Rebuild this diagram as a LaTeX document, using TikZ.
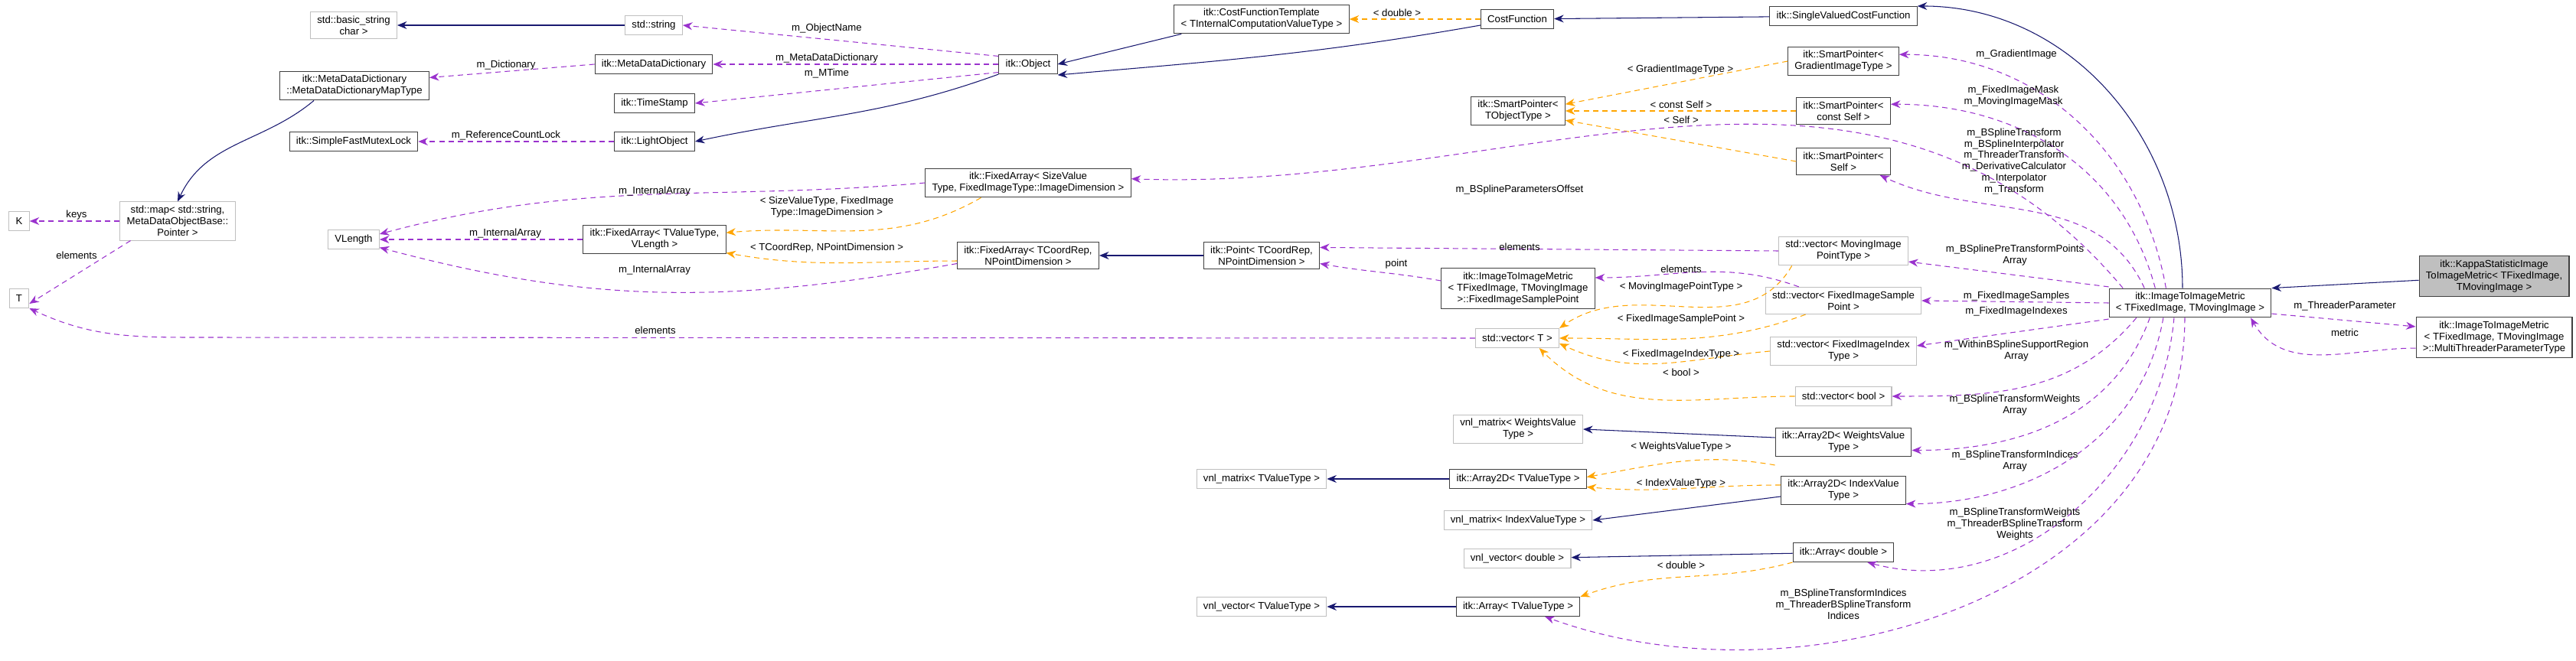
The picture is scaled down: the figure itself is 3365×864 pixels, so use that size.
\documentclass[tikz,border=0pt]{standalone}
\usepackage{fontspec}
\setmainfont{Liberation Sans}
\usetikzlibrary{arrows.meta}
\definecolor{inhcol}{HTML}{191970}
\definecolor{usecol}{HTML}{9A32CD}
\definecolor{tplcol}{HTML}{FFA500}
\begin{document}
\begin{tikzpicture}[x=0.02cm,y=0.02cm,
    font=\fontsize{7.5}{8.5}\selectfont,
    cls/.style={draw=black!75,line width=0.6pt,rectangle,align=center,minimum height=0.5cm,inner xsep=5pt,inner ysep=3pt,fill=white},
    ext/.style={cls,draw=black!25},
    self/.style={cls,fill=black!25},
    inh/.style={draw=inhcol,line width=0.6pt,-{Stealth[length=0.25cm,width=0.2cm]}},
    use/.style={draw=usecol,line width=0.6pt,dash pattern=on 4pt off 3pt,-{Stealth[length=0.25cm,width=0.2cm]}},
    tpl/.style={draw=tplcol,line width=0.6pt,dash pattern=on 4pt off 3pt,-{Stealth[length=0.25cm,width=0.2cm]}},
    lbl/.style={align=center,inner sep=0pt}]
\useasboundingbox (0,0) rectangle (3365,-864);
% classes
\node[ext] (bstr) at (462,-33) {std::basic\_string\\char >};
\node[ext] (str) at (854,-33) {std::string};
\node[cls] (maptype) at (463,-112) {itk::MetaDataDictionary\\::MetaDataDictionaryMapType};
\node[cls] (mdd) at (854,-84) {itk::MetaDataDictionary};
\node[cls] (tstamp) at (855,-135) {itk::TimeStamp};
\node[cls] (mutex) at (462,-185) {itk::SimpleFastMutexLock};
\node[cls] (light) at (855,-185) {itk::LightObject};
\node[ext] (stdmap) at (232,-289) {std::map< std::string,\\MetaDataObjectBase::\\Pointer >};
\node[ext] (K) at (25,-289) {K};
\node[ext] (T) at (25,-390) {T};
\node[ext] (vlen) at (462,-313) {VLength};
\node[cls] (fatv) at (855,-313) {itk::FixedArray< TValueType,\\VLength >};
\node[cls] (obj) at (1343,-84) {itk::Object};
\node[cls] (cft) at (1648,-25) {itk::CostFunctionTemplate\\< TInternalComputationValueType >};
\node[cls] (fasz) at (1343,-239) {itk::FixedArray< SizeValue\\Type, FixedImageType::ImageDimension >};
\node[cls] (fatc) at (1343,-334) {itk::FixedArray< TCoordRep,\\NPointDimension >};
\node[cls] (point) at (1648,-334) {itk::Point< TCoordRep,\\NPointDimension >};
\node[cls] (cf) at (1982,-25) {CostFunction};
\node[cls] (svcf) at (2408,-21) {itk::SingleValuedCostFunction};
\node[cls] (spgrad) at (2408,-80) {itk::SmartPointer<\\GradientImageType >};
\node[cls] (spobj) at (1983,-145) {itk::SmartPointer<\\TObjectType >};
\node[cls] (spcself) at (2408,-145) {itk::SmartPointer<\\const Self >};
\node[cls] (spself) at (2408,-211) {itk::SmartPointer<\\Self >};
\node[ext] (vmov) at (2408,-328) {std::vector< MovingImage\\PointType >};
\node[cls] (fisp) at (1983,-377) {itk::ImageToImageMetric\\< TFixedImage, TMovingImage\\>::FixedImageSamplePoint};
\node[ext] (vfisp) at (2408,-393) {std::vector< FixedImageSample\\Point >};
\node[ext] (vecT) at (1982,-442) {std::vector< T >};
\node[ext] (vfii) at (2408,-459) {std::vector< FixedImageIndex\\Type >};
\node[ext] (vbool) at (2408,-518) {std::vector< bool >};
\node[ext] (vnlmw) at (1983,-561) {vnl\_matrix< WeightsValue\\Type >};
\node[cls] (a2w) at (2408,-578) {itk::Array2D< WeightsValue\\Type >};
\node[ext] (vnlmt) at (1648,-626) {vnl\_matrix< TValueType >};
\node[cls] (a2t) at (1983,-626) {itk::Array2D< TValueType >};
\node[cls] (a2i) at (2408,-641) {itk::Array2D< IndexValue\\Type >};
\node[ext] (vnlmi) at (1983,-680) {vnl\_matrix< IndexValueType >};
\node[ext] (vnlvd) at (1982,-730) {vnl\_vector< double >};
\node[cls] (ad) at (2408,-722) {itk::Array< double >};
\node[ext] (vnlvt) at (1648,-793) {vnl\_vector< TValueType >};
\node[cls] (at) at (1983,-793) {itk::Array< TValueType >};
\node[cls] (itim) at (2861,-396) {itk::ImageToImageMetric\\< TFixedImage, TMovingImage >};
\node[self] (kappa) at (3258,-361) {itk::KappaStatisticImage\\ToImageMetric< TFixedImage,\\TMovingImage >};
\node[cls] (mtp) at (3258,-441) {itk::ImageToImageMetric\\< TFixedImage, TMovingImage\\>::MultiThreaderParameterType};
% inheritance
\draw[inh] (str) -- (bstr);
\draw[inh] (maptype.south west) ++(45,0) coordinate (mt1) to[out=-140,in=65] (stdmap.north);
\draw[inh] (obj.south west) to[out=-160,in=12] (light.east);
\draw[inh] (cft.south west) ++(10,0) coordinate (c1) -- (obj.east);
\draw[inh] (cf.west) ++(0,-8) coordinate (c2) to[out=190,in=5] ([yshift=-8]obj.east);
\draw[inh] (svcf) -- (cf);
\draw[inh] (itim.north) ++(-10,0) coordinate (i0) to[out=90,in=0] (svcf.north east);
\draw[inh] (kappa) -- (itim.north east);
\draw[inh] (point) -- (fatc);
\draw[inh] (a2w.west) ++(0,6) coordinate (w1) -- (vnlmw.east);
\draw[inh] (a2t) -- (vnlmt);
\draw[inh] (a2i.west) ++(0,-8) coordinate (w2) -- (vnlmi.east);
\draw[inh] (ad) -- (vnlvd);
\draw[inh] (at) -- (vnlvt);
% templates
\draw[tpl] (cf) -- (cft);
\draw[tpl] ([xshift=-35]fasz.south) to[out=-150,in=5] ([yshift=5]fatv.east);
\draw[tpl] ([yshift=-4]fatc.west) to[out=180,in=-10] ([yshift=-10]fatv.east);
\draw[tpl] (spgrad.west) -- ([yshift=5]spobj.east);
\draw[tpl] (spcself) -- (spobj);
\draw[tpl] (spself.west) -- ([yshift=-7]spobj.east);
\draw[tpl] ([xshift=10]vmov.south west) to[out=-120,in=35] (vecT.north east);
\draw[tpl] ([xshift=30]vfisp.south west) to[out=-160,in=0] (vecT.east);
\draw[tpl] (vfii.west) to[out=185,in=-25] ([yshift=-4]vecT.east);
\draw[tpl] (vbool.west) to[out=180,in=-45] ([xshift=-15]vecT.south east);
\draw[tpl] ([yshift=-6]a2w.south west) to[out=170,in=10] ([yshift=-6]a2t.north east);
\draw[tpl] ([yshift=4]a2i.west) to[out=180,in=-5] ([yshift=-6]a2t.east);
\draw[tpl] (ad.south west) to[out=-165,in=20] (at.north east);
% usage
\draw[use] ([yshift=6]obj.west) -- (str.east);
\draw[use] (obj) -- (mdd);
\draw[use] ([yshift=-6]obj.west) -- (tstamp.east);
\draw[use] (mdd.west) -- ([yshift=6]maptype.east);
\draw[use] (light) -- (mutex);
\draw[use] (stdmap) -- (K);
\draw[use] ([xshift=-35]stdmap.south) -- ([yshift=-4]T.east);
\draw[use] (vecT.west) -- (250,-441) to[out=180,in=-25] (T.south east);
\draw[use] (fasz.west) to[out=185,in=15] ([yshift=4]vlen.east);
\draw[use] (fatv) -- (vlen);
\draw[use] ([yshift=-6]fatc.west) to[out=190,in=-15] ([yshift=-6]vlen.east);
\draw[use] (vmov.west) -- ([yshift=6]point.east);
\draw[use] (fisp.west) ++(0,10) coordinate (f1) to[out=170,in=-10] ([yshift=-6]point.east);
\draw[use] ([xshift=25]vfisp.north west) to[out=160,in=0] ([yshift=8]fisp.east);
\draw[use] ([xshift=-18]itim.north) to[out=100,in=0] ([yshift=5]spgrad.east);
\draw[use] ([xshift=-26]itim.north) to[out=105,in=0] ([yshift=5]spcself.east);
\draw[use] ([xshift=-34]itim.north) to[out=115,in=-25] ([xshift=-8]spself.south east);
\draw[use] ([xshift=-50]itim.north) to[out=130,in=-2] ([yshift=3]fasz.east);
\draw[use] ([yshift=12]itim.west) -- ([yshift=-8]vmov.east);
\draw[use] (itim.west) -- (vfisp.east);
\draw[use] ([yshift=-12]itim.west) -- ([yshift=4]vfii.east);
\draw[use] ([xshift=-40]itim.south) to[out=-130,in=0] (vbool.east);
\draw[use] ([xshift=-30]itim.south) to[out=-110,in=0] ([yshift=-6]a2w.east);
\draw[use] ([xshift=-20]itim.south) to[out=-100,in=0] ([yshift=-10]a2i.east);
\draw[use] ([xshift=-12]itim.south) to[out=-95,in=-15] ([xshift=-20]ad.south east);
\draw[use] ([xshift=-4]itim.south) to[out=-90,in=-20] ([xshift=20]at.south);
\draw[use] ([yshift=-8]itim.east) -- ([yshift=8]mtp.west);
\draw[use] ([yshift=-8]mtp.west) to[out=180,in=-60] ([xshift=45]itim.south);
% labels
\node[lbl] (lkeys) at (100,-281) {keys};
\node[lbl] (lel1) at (100,-334) {elements};
\node[lbl] (lel2) at (856,-432) {elements};
\node[lbl] (ldict) at (661,-85) {m\_Dictionary};
\node[lbl] (lrcl) at (661,-177) {m\_ReferenceCountLock};
\node[lbl] (lia1) at (855,-250) {m\_InternalArray};
\node[lbl] (lia2) at (660,-305) {m\_InternalArray};
\node[lbl] (lia3) at (855,-353) {m\_InternalArray};
\node[lbl] (lon) at (1080,-37) {m\_ObjectName};
\node[lbl] (lmdd) at (1080,-76) {m\_MetaDataDictionary};
\node[lbl] (lmt) at (1080,-96) {m\_MTime};
\node[lbl] (lsvt) at (1080,-271) {< SizeValueType, FixedImage\\Type::ImageDimension >};
\node[lbl] (ltcr) at (1080,-324) {< TCoordRep, NPointDimension >};
\node[lbl] (ldbl1) at (1825,-17) {< double >};
\node[lbl] (lgit) at (2195,-91) {< GradientImageType >};
\node[lbl] (lcs) at (2196,-137) {< const Self >};
\node[lbl] (ls) at (2196,-157) {< Self >};
\node[lbl] (lbpo) at (1985,-248) {m\_BSplineParametersOffset};
\node[lbl] (lel3) at (1985,-323) {elements};
\node[lbl] (lpt) at (1824,-345) {point};
\node[lbl] (lel4) at (2196,-352) {elements};
\node[lbl] (lmipt) at (2196,-375) {< MovingImagePointType >};
\node[lbl] (lfisp) at (2196,-417) {< FixedImageSamplePoint >};
\node[lbl] (lfiit) at (2196,-463) {< FixedImageIndexType >};
\node[lbl] (lbool) at (2196,-487) {< bool >};
\node[lbl] (lwvt) at (2196,-584) {< WeightsValueType >};
\node[lbl] (livt) at (2196,-632) {< IndexValueType >};
\node[lbl] (ldbl2) at (2196,-739) {< double >};
\node[lbl] (lgi) at (2634,-71) {m\_GradientImage};
\node[lbl] (lmask) at (2630,-126) {m\_FixedImageMask\\m\_MovingImageMask};
\node[lbl] (ltr) at (2631,-211) {m\_BSplineTransform\\m\_BSplineInterpolator\\m\_ThreaderTransform\\m\_DerivativeCalculator\\m\_Interpolator\\m\_Transform};
\node[lbl] (lbptp) at (2632,-334) {m\_BSplinePreTransformPoints\\Array};
\node[lbl] (lfis) at (2634,-387) {m\_FixedImageSamples};
\node[lbl] (lfii) at (2634,-407) {m\_FixedImageIndexes};
\node[lbl] (lwbs) at (2634,-459) {m\_WithinBSplineSupportRegion\\Array};
\node[lbl] (lbtw) at (2632,-530) {m\_BSplineTransformWeights\\Array};
\node[lbl] (lbti) at (2632,-603) {m\_BSplineTransformIndices\\Array};
\node[lbl] (lbtw2) at (2632,-685) {m\_BSplineTransformWeights\\m\_ThreaderBSplineTransform\\Weights};
\node[lbl] (lbti2) at (2408,-790) {m\_BSplineTransformIndices\\m\_ThreaderBSplineTransform\\Indices};
\node[lbl] (ltp) at (3063,-400) {m\_ThreaderParameter};
\node[lbl] (lmet) at (3063,-435) {metric};
\end{tikzpicture}
\end{document}
